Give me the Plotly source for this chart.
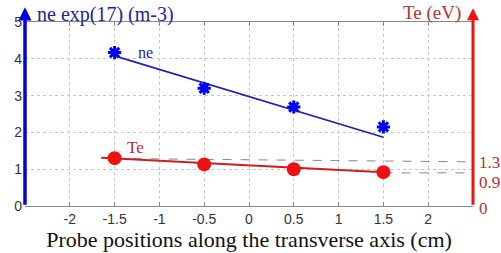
import plotly.graph_objects as go

# Data
positions = [-1.5, -0.5, 0.5, 1.5]
ne_values = [4.17, 3.2, 2.69, 2.15]
te_values = [1.30, 1.13, 1.0, 0.92]
ne_fit_x = [-1.5, 1.5]
ne_fit_y = [4.08, 1.87]
te_fit_x = [-1.65, 1.5]
te_fit_y = [1.31, 0.92]
te_ref_hi_x = [-1.5, 2.5]
te_ref_hi_y = [1.29, 1.2]
te_ref_lo_x = [1.5, 2.5]
te_ref_lo_y = [0.9, 0.9]
x_ticks = [-2, -1.5, -1, -0.5, 0, 0.5, 1, 1.5, 2]
x_tick_labels = ["-2", "-1.5", "-1", "-0.5", "0", "0.5", "1", "1.5", "2"]
y_ticks = [0, 1, 2, 3, 4, 5]
right_labels = ["1.3", "0.9", "0"]
right_label_pos = [0.239, 0.13, -0.016]

BLUE = "#0000ee"
DBLUE = "#23239b"
RED = "#ee1111"
DRED = "#b8302f"
SERIF = "Liberation Serif, Times New Roman, serif"
SANS = "Liberation Sans, Arial, sans-serif"

fig = go.Figure()
fig.add_trace(go.Scatter(x=te_ref_hi_x, y=te_ref_hi_y, mode="lines",
                         line=dict(color="#888888", width=1, dash="dash"), hoverinfo="skip"))
fig.add_trace(go.Scatter(x=te_ref_lo_x, y=te_ref_lo_y, mode="lines",
                         line=dict(color="#888888", width=1, dash="dash"), hoverinfo="skip"))
fig.add_trace(go.Scatter(x=ne_fit_x, y=ne_fit_y, mode="lines",
                         line=dict(color="#2020b0", width=1.6)))
fig.add_trace(go.Scatter(x=te_fit_x, y=te_fit_y, mode="lines",
                         line=dict(color="#cc1f1f", width=2)))
fig.add_trace(go.Scatter(x=positions, y=ne_values, mode="markers",
                         marker=dict(symbol="asterisk-open", size=11, color=BLUE,
                                     line=dict(color=BLUE, width=3))))
fig.add_trace(go.Scatter(x=positions, y=te_values, mode="markers",
                         marker=dict(symbol="circle", size=14, color=RED,
                                     line=dict(width=0))))

annotations = [
    dict(text="ne", x=-1.15, y=4.18, xref="x", yref="y", showarrow=False,
         font=dict(family=SERIF, size=16, color=DBLUE)),
    dict(text="Te", x=-1.27, y=1.6, xref="x", yref="y", showarrow=False,
         font=dict(family=SERIF, size=17, color=DRED)),
    dict(text="ne exp(17) (m-3)", x=0.022, y=1.04, xref="paper", yref="paper",
         xanchor="left", yanchor="middle", showarrow=False,
         font=dict(family=SERIF, size=20, color=DBLUE)),
    dict(text="Te (eV)", x=0.977, y=1.05, xref="paper", yref="paper",
         xanchor="right", yanchor="middle", showarrow=False,
         font=dict(family=SERIF, size=19, color=DRED)),
    # axis arrows
    dict(text="", x=0, y=1.08, xref="paper", yref="paper", showarrow=True,
         ax=0, ay=199, arrowhead=2, arrowsize=0.75, arrowwidth=3.5, arrowcolor="#0000dd"),
    dict(text="", x=1, y=1.075, xref="paper", yref="paper", showarrow=True,
         ax=0, ay=198, arrowhead=2, arrowsize=0.8, arrowwidth=3, arrowcolor=RED),
]
for lab, pos in zip(right_labels, right_label_pos):
    annotations.append(dict(text=lab, x=1.008, y=pos, xref="paper", yref="paper",
                            xanchor="left", yanchor="middle", showarrow=False,
                            font=dict(family=SERIF, size=17, color=DRED)))

fig.update_layout(
    width=501, height=253,
    margin=dict(l=25, r=28, t=22, b=47),
    paper_bgcolor="white", plot_bgcolor="white",
    showlegend=False,
    annotations=annotations,
    xaxis=dict(range=[-2.5, 2.5], tickvals=x_ticks, ticktext=x_tick_labels,
               automargin=False,
               showgrid=True, gridcolor="#c8c8c8", griddash="dot", gridwidth=1,
               zeroline=False, showline=True, linecolor="#888888", mirror="ticks",
               ticks="inside", ticklen=4, tickcolor="#888888",
               tickfont=dict(family=SANS, size=14, color="#333333"),
               title=dict(text="Probe positions along the transverse axis (cm)",
                          font=dict(family=SERIF, size=22, color="#111111"),
                          standoff=2)),
    yaxis=dict(range=[0, 5], tickvals=y_ticks, automargin=False,
               showgrid=True, gridcolor="#c8c8c8", griddash="dot", gridwidth=1,
               zeroline=False, showline=False, ticks="", ticklabelstandoff=2,
               tickfont=dict(family=SANS, size=14, color="#333333")),
)

fig.write_html("out.html", config={"displayModeBar": False},
               post_script="document.body.style.margin='0';document.body.style.overflow='hidden';")
